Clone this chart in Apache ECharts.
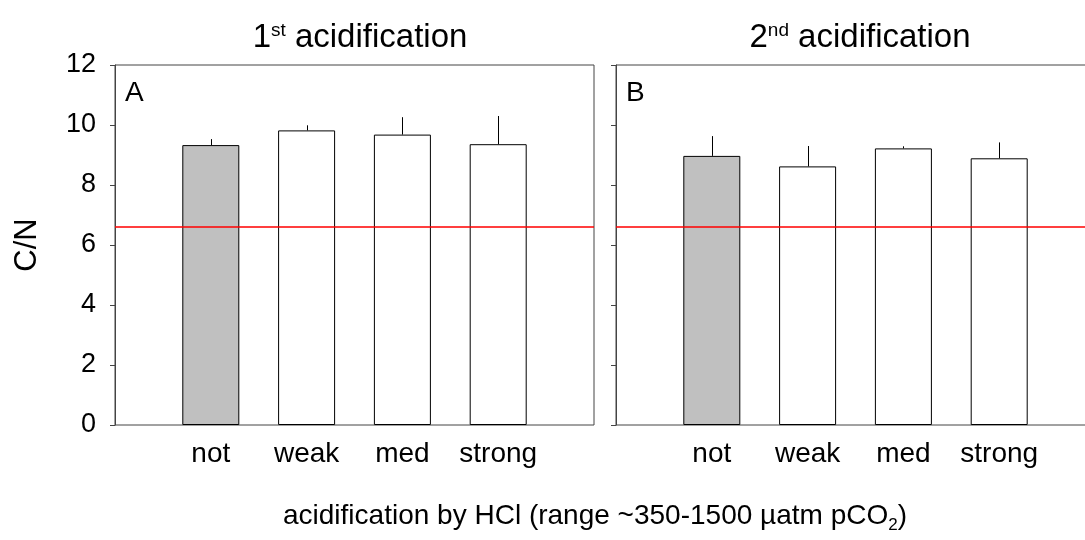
<!DOCTYPE html>
<html>
<head>
<meta charset="utf-8">
<script src="https://cdn.jsdelivr.net/npm/echarts@6/dist/echarts.min.js"></script>
<style>
  html, body { margin: 0; padding: 0; background: #fff; }
  #chart { width: 1085px; height: 540px; }
</style>
</head>
<body>
<div id="chart"></div>
<script>
// padded with empty slots so the four bars sit one band in from each edge
const categories = ['', 'not', 'weak', 'med', 'strong', ''];
const yTicks = [0, 2, 4, 6, 8, 10, 12];

// 1st acidification (panel A)
const meanA = [null, 9.33, 9.82, 9.68, 9.36, null];
const upperA = [null, 9.53, 9.99, 10.26, 10.30, null];
// 2nd acidification (panel B)
const meanB = [null, 8.97, 8.62, 9.22, 8.89, null];
const upperB = [null, 9.63, 9.30, 9.29, 9.42, null];

// reference C/N line
const redfield = 6.6;

const FONT = '"Liberation Sans", Arial, sans-serif';

const chart = echarts.init(document.getElementById('chart'));

function barData(means) {
  return means.map((v, i) => {
    if (v == null) return '-';
    return {
      value: v,
      itemStyle: { color: i === 1 ? '#c0c0c0' : '#ffffff' }
    };
  });
}

function errData(means, uppers) {
  const r = [];
  means.forEach((v, i) => {
    if (v != null) r.push([i, v, uppers[i]]);
  });
  return r;
}

function renderErr(params, api) {
  const lo = api.coord([api.value(0), api.value(1)]);
  const hi = api.coord([api.value(0), api.value(2)]);
  // snap to the pixel grid so the whisker stays a crisp 1px line
  const x = Math.round(lo[0]) + 0.5;
  return {
    type: 'line',
    shape: { x1: x, y1: lo[1], x2: x, y2: hi[1] },
    style: { stroke: '#000', lineWidth: 1 }
  };
}

function panelSeries(idx, means, uppers) {
  return [
    {
      type: 'bar',
      xAxisIndex: idx,
      yAxisIndex: idx,
      barWidth: 57,
      data: barData(means),
      itemStyle: { borderColor: '#000', borderWidth: 1 },
      silent: true
    },
    {
      type: 'custom',
      xAxisIndex: idx,
      yAxisIndex: idx,
      data: errData(means, uppers),
      renderItem: renderErr,
      silent: true,
      z: 3
    },
    {
      type: 'line',
      xAxisIndex: idx,
      yAxisIndex: idx,
      data: categories.map(() => redfield),
      symbol: 'none',
      lineStyle: { color: '#ff0000', width: 1.5 },
      silent: true,
      z: 4
    }
  ];
}

const xAxisBase = {
  type: 'category',
  data: categories,
  boundaryGap: false,
  axisLine: { show: false },
  axisTick: { show: false },
  splitLine: { show: false },
  axisLabel: { color: '#000', fontSize: 28, fontFamily: FONT, margin: 15, interval: 0 }
};

const yAxisBase = {
  type: 'value',
  min: 0,
  max: 12,
  interval: 2,
  splitLine: { show: false },
  axisLine: { show: true, lineStyle: { color: '#444' } },
  axisTick: { show: true, length: 5, lineStyle: { color: '#444' } }
};

const titleRich = {
  t: { fontSize: 33, fontWeight: 'normal', fontFamily: FONT, color: '#000', lineHeight: 38, verticalAlign: 'top' },
  s: { fontSize: 19, fontWeight: 'normal', fontFamily: FONT, color: '#000', lineHeight: 20, verticalAlign: 'top' }
};

chart.setOption({
  animation: false,
  backgroundColor: '#fff',
  title: [
    {
      text: '{t|1}{s|st}{t| acidification}',
      left: 355, top: 16, textAlign: 'center',
      textStyle: { rich: titleRich }
    },
    {
      text: '{t|2}{s|nd}{t| acidification}',
      left: 855, top: 16, textAlign: 'center',
      textStyle: { rich: titleRich }
    },
    {
      text: '{t|acidification by HCl (range ~350-1500 µatm pCO}{b|2}{t|)}',
      left: 590, top: 497, textAlign: 'center',
      textStyle: {
        rich: {
          t: { fontSize: 28, fontWeight: 'normal', fontFamily: FONT, color: '#000', lineHeight: 32, verticalAlign: 'top' },
          b: { fontSize: 17, fontWeight: 'normal', fontFamily: FONT, color: '#000', lineHeight: 18, verticalAlign: 'bottom' }
        }
      }
    },
    { text: 'A', left: 120, top: 74, textStyle: { fontSize: 28, fontWeight: 'normal', fontFamily: FONT, color: '#000' } },
    { text: 'B', left: 621, top: 74, textStyle: { fontSize: 28, fontWeight: 'normal', fontFamily: FONT, color: '#000' } }
  ],
  grid: [
    { left: 115, top: 65, width: 479, height: 360, outerBoundsMode: 'none', show: true, borderColor: '#444', borderWidth: 1, backgroundColor: 'transparent' },
    { left: 616, top: 65, width: 479, height: 360, outerBoundsMode: 'none', show: true, borderColor: '#444', borderWidth: 1, backgroundColor: 'transparent' }
  ],
  xAxis: [
    Object.assign({ gridIndex: 0 }, xAxisBase),
    Object.assign({ gridIndex: 1 }, xAxisBase)
  ],
  yAxis: [
    Object.assign({ gridIndex: 0 }, yAxisBase, {
      name: 'C/N',
      nameLocation: 'middle',
      nameGap: 72,
      nameTextStyle: { fontSize: 31, fontFamily: FONT, color: '#000' },
      axisLabel: {
        color: '#000', fontSize: 27, fontFamily: FONT, margin: 19,
        formatter: (v) => (yTicks.indexOf(v) >= 0 ? String(v) : '')
      }
    }),
    Object.assign({ gridIndex: 1 }, yAxisBase, {
      axisLabel: { show: false }
    })
  ],
  series: [].concat(panelSeries(0, meanA, upperA), panelSeries(1, meanB, upperB))
});
</script>
</body>
</html>
